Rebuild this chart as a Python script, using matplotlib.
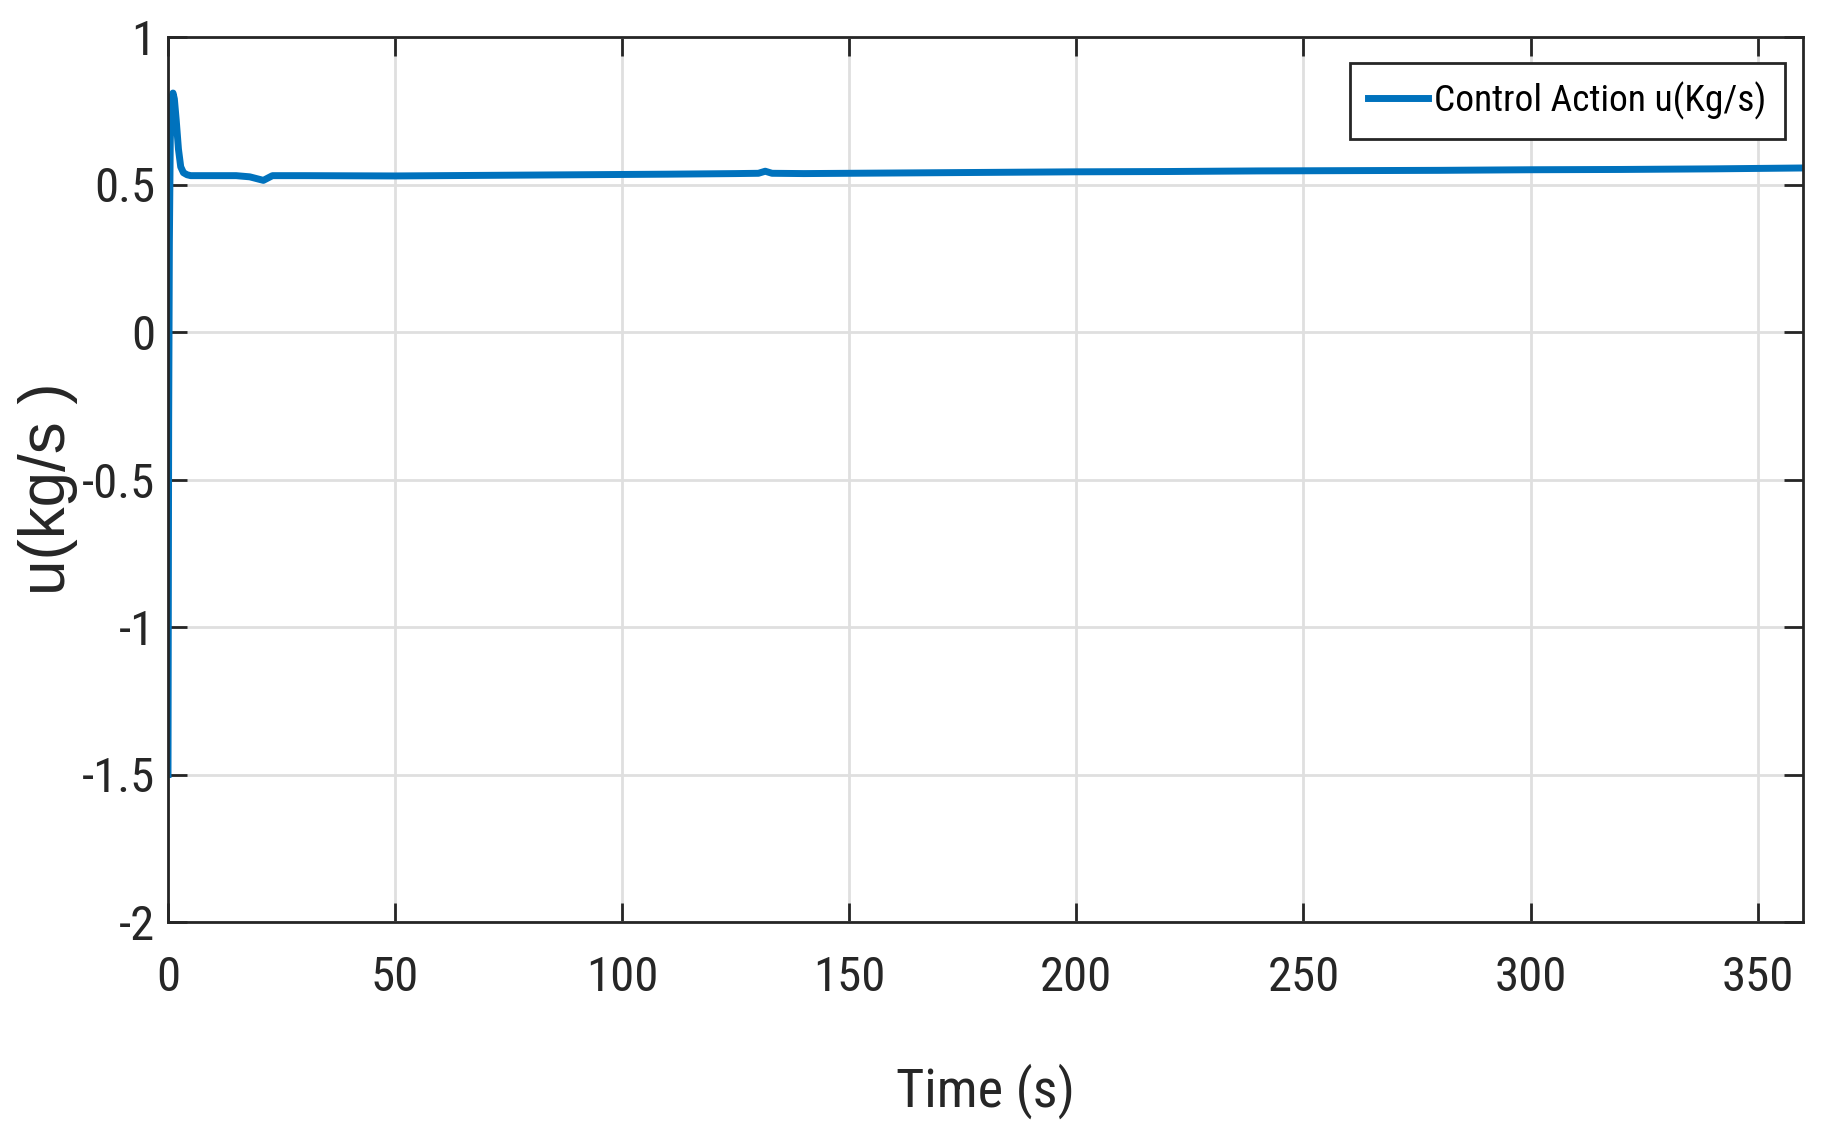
import math
import matplotlib
matplotlib.use("Agg")
import matplotlib.pyplot as plt
from matplotlib import font_manager
from matplotlib.font_manager import FontProperties
from matplotlib.textpath import TextPath

# ---------------- data ----------------
time_s = [0, 0.15, 0.3, 0.5, 0.8, 1.1, 1.4, 1.8, 2.3, 2.8, 3.4, 4.2, 5, 10, 15, 18, 20, 21, 22, 23,
          30, 50, 70, 90, 110, 125, 130, 131.5, 133, 140, 160, 180, 200, 220, 240, 260, 280, 300,
          320, 340, 360]
u_vals = [-1.5, -0.3, 0.3, 0.65, 0.79, 0.81, 0.79, 0.72, 0.62, 0.56, 0.54, 0.533, 0.53, 0.53, 0.53,
          0.526, 0.518, 0.514, 0.522, 0.53, 0.53, 0.529, 0.531, 0.533, 0.535, 0.537, 0.538, 0.545,
          0.538, 0.537, 0.539, 0.541, 0.543, 0.544, 0.546, 0.547, 0.548, 0.55, 0.551, 0.553, 0.556]
xticks = [0, 50, 100, 150, 200, 250, 300, 350]
yticks = [-2, -1.5, -1, -0.5, 0, 0.5, 1]
ytick_labels = ["-2", "-1.5", "-1", "-0.5", "0", "0.5", "1"]
legend_label = "Control Action u(Kg/s)"
xlabel = "Time (s)"
ylabel = "u(kg/s )"

# ---------------- font choice ----------------
def pick_narrow():
    prefs = ["Liberation Sans Narrow", "Roboto Condensed", "Open Sans Condensed",
             "Noto Sans Condensed", "DejaVu Sans Condensed"]
    fl = font_manager.fontManager.ttflist
    for p in prefs:
        for f in fl:
            if f.name == p and f.style == "normal" and f.weight in (400, "normal", "regular"):
                if "Bold" in f.fname or "Italic" in f.fname:
                    continue
                return FontProperties(fname=f.fname)
    for f in fl:
        if f.stretch in ("condensed", "semi-condensed") and f.style == "normal" \
                and f.weight in (400, "normal") and "Bold" not in f.fname and "Italic" not in f.fname \
                and "Mono" not in f.name and "Serif" not in f.name:
            return FontProperties(fname=f.fname)
    return FontProperties(family="Liberation Sans")

narrow_fp = pick_narrow()
DPI = 100

def text_w(text, fp, size):
    return TextPath((0, 0), text, size=size, prop=fp).get_extents().width * DPI / 72.0

def cap_h(fp, size):
    return TextPath((0, 0), "H", size=size, prop=fp).get_extents().height * DPI / 72.0

def fit_size(text, fp, w_px, cap_px, wweight=0.5):
    sw = 100 * w_px / text_w(text, fp, 100)
    sh = 100 * cap_px / cap_h(fp, 100)
    if sw >= sh:
        return sh
    return math.exp(wweight * math.log(sw) + (1 - wweight) * math.log(sh))

tick_size = fit_size("350", narrow_fp, 59, 38, 0.4)
leg_size = fit_size(legend_label, narrow_fp, 323, 35, 0.95)
xl_size = fit_size(xlabel, narrow_fp, 163, 50, 0.8)

def fp_sized(size):
    p = narrow_fp.copy()
    p.set_size(size)
    return p

# ---------------- figure ----------------
fig = plt.figure(figsize=(18.29, 11.45), dpi=DPI)
ax = fig.add_axes([168/1829, 1 - 922/1145, (1803-168)/1829, (922-37)/1145])

ax.plot(time_s, u_vals, color="#0072BD", lw=5, label=legend_label)
ax.set_xlim(0, 360)
ax.set_ylim(-2, 1)
ax.set_xticks(xticks)
ax.set_yticks(yticks)
ax.set_yticklabels(ytick_labels)
ax.grid(True, color="#dfdfdf", lw=2)
ax.set_axisbelow(True)
for s in ax.spines.values():
    s.set_color("#262626")
    s.set_linewidth(2)
ax.tick_params(direction="in", length=14, width=2, color="#262626", top=True, right=True,
               labelcolor="#262626")
ax.tick_params(axis="y", pad=9)
ax.tick_params(axis="x", pad=24)
for lab in ax.get_xticklabels() + ax.get_yticklabels():
    lab.set_fontproperties(fp_sized(tick_size))

ax.set_xlabel(xlabel, fontproperties=fp_sized(xl_size), color="#262626")
ax.xaxis.set_label_coords(0.5, -0.16)
ax.set_ylabel(ylabel, fontsize=46, family="Liberation Sans", color="#262626")
ax.yaxis.set_label_coords(-0.055, 0.49)

leg = ax.legend(loc="upper right", bbox_to_anchor=(0.989, 0.9706), prop=fp_sized(leg_size),
                fancybox=False, framealpha=1, edgecolor="#262626", handlelength=1.6,
                handletextpad=0.15, borderpad=0.5, borderaxespad=0)
leg.get_frame().set_linewidth(2)

fig.savefig("out.png", dpi=DPI)
